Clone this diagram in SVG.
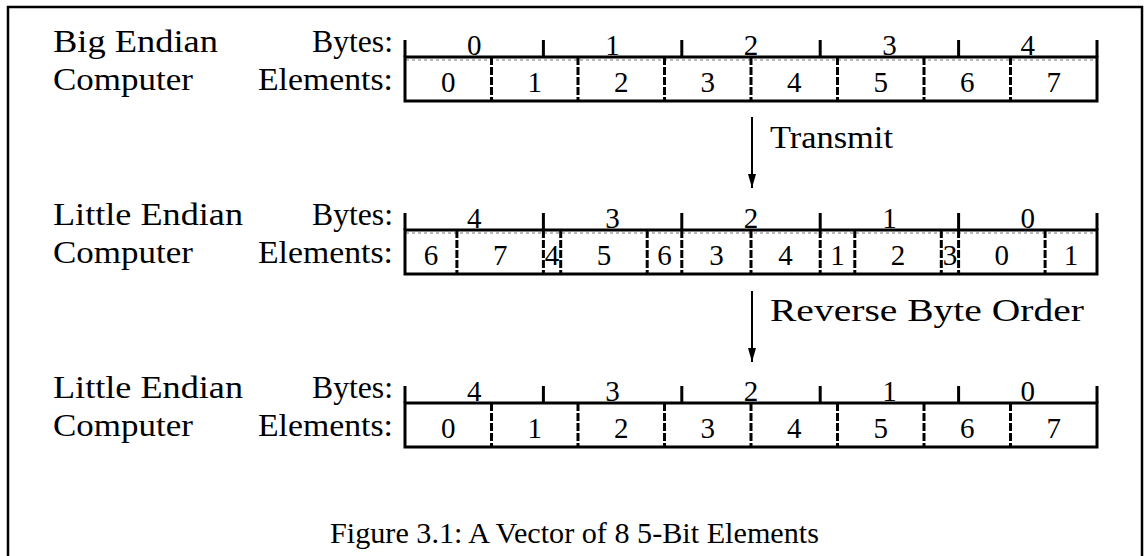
<svg xmlns="http://www.w3.org/2000/svg" width="1144" height="556" viewBox="0 0 1144 556">
<style>
text{font-family:"Liberation Serif","Times New Roman",serif;font-size:29px;fill:#000}
.t{font-size:31px}
.lbl{text-anchor:end}
.c{text-anchor:middle}
.box{fill:none;stroke:#000;stroke-width:3}
.tick{stroke:#000;stroke-width:3}
.div{stroke:#000;stroke-width:3;stroke-dasharray:8 2}
.dot{stroke:#777;stroke-width:1;stroke-dasharray:3 3}
.frame{fill:none;stroke:#000;stroke-width:2.5}
.arr{stroke:#000;stroke-width:2}
</style>
<defs>
<marker id="ah" markerUnits="userSpaceOnUse" markerWidth="8" markerHeight="14" refX="4" refY="14" orient="0">
<path d="M0,0 L8,0 L4,14 z" fill="#000"/>
</marker>
</defs>
<path class="frame" d="M8,556 V7 H1142 V556"/>

<g id="row1">
<text class="t" x="53" y="52" textLength="165" lengthAdjust="spacingAndGlyphs">Big Endian</text>
<text class="t" x="53" y="90" textLength="140" lengthAdjust="spacingAndGlyphs">Computer</text>
<text class="t lbl" x="393" y="52" textLength="81" lengthAdjust="spacingAndGlyphs">Bytes:</text>
<text class="t lbl" x="393" y="90" textLength="135" lengthAdjust="spacingAndGlyphs">Elements:</text>
<g class="tick"><line x1="405" y1="40" x2="405" y2="57"/><line x1="543.4" y1="40" x2="543.4" y2="57"/><line x1="681.8" y1="40" x2="681.8" y2="57"/><line x1="820.2" y1="40" x2="820.2" y2="57"/><line x1="958.6" y1="40" x2="958.6" y2="57"/><line x1="1097" y1="40" x2="1097" y2="57"/></g>
<g class="c"><text x="474.2" y="55">0</text><text x="612.6" y="55">1</text><text x="751" y="55">2</text><text x="889.4" y="55">3</text><text x="1027.8" y="55">4</text></g>
<line class="dot" x1="406" y1="60" x2="1096" y2="60"/>
<rect class="box" x="405" y="57" width="692" height="44"/>
<g class="div"><line x1="491.5" y1="57" x2="491.5" y2="101"/><line x1="578" y1="57" x2="578" y2="101"/><line x1="664.5" y1="57" x2="664.5" y2="101"/><line x1="751" y1="57" x2="751" y2="101"/><line x1="837.5" y1="57" x2="837.5" y2="101"/><line x1="924" y1="57" x2="924" y2="101"/><line x1="1010.5" y1="57" x2="1010.5" y2="101"/></g>
<g class="c"><text x="448.25" y="92">0</text><text x="534.75" y="92">1</text><text x="621.25" y="92">2</text><text x="707.75" y="92">3</text><text x="794.25" y="92">4</text><text x="880.75" y="92">5</text><text x="967.25" y="92">6</text><text x="1053.75" y="92">7</text></g>
</g>

<g id="row2">
<text class="t" x="53" y="225" textLength="190" lengthAdjust="spacingAndGlyphs">Little Endian</text>
<text class="t" x="53" y="263" textLength="140" lengthAdjust="spacingAndGlyphs">Computer</text>
<text class="t lbl" x="393" y="225" textLength="81" lengthAdjust="spacingAndGlyphs">Bytes:</text>
<text class="t lbl" x="393" y="263" textLength="135" lengthAdjust="spacingAndGlyphs">Elements:</text>
<g class="tick"><line x1="405" y1="213" x2="405" y2="230"/><line x1="543.4" y1="213" x2="543.4" y2="230"/><line x1="681.8" y1="213" x2="681.8" y2="230"/><line x1="820.2" y1="213" x2="820.2" y2="230"/><line x1="958.6" y1="213" x2="958.6" y2="230"/><line x1="1097" y1="213" x2="1097" y2="230"/></g>
<g class="c"><text x="474.2" y="228">4</text><text x="612.6" y="228">3</text><text x="751" y="228">2</text><text x="889.4" y="228">1</text><text x="1027.8" y="228">0</text></g>
<line class="dot" x1="406" y1="233" x2="1096" y2="233"/>
<rect class="box" x="405" y="230" width="692" height="44"/>
<g class="div"><line x1="456.9" y1="230" x2="456.9" y2="274"/><line x1="543.4" y1="230" x2="543.4" y2="274"/><line x1="560.7" y1="230" x2="560.7" y2="274"/><line x1="647.2" y1="230" x2="647.2" y2="274"/><line x1="681.8" y1="230" x2="681.8" y2="274"/><line x1="751" y1="230" x2="751" y2="274"/><line x1="820.2" y1="230" x2="820.2" y2="274"/><line x1="854.8" y1="230" x2="854.8" y2="274"/><line x1="941.3" y1="230" x2="941.3" y2="274"/><line x1="958.6" y1="230" x2="958.6" y2="274"/><line x1="1045.1" y1="230" x2="1045.1" y2="274"/></g>
<g class="c"><text x="430.95" y="265">6</text><text x="500.15" y="265">7</text><text x="552.05" y="265">4</text><text x="603.95" y="265">5</text><text x="664.5" y="265">6</text><text x="716.4" y="265">3</text><text x="785.6" y="265">4</text><text x="837.5" y="265">1</text><text x="898.05" y="265">2</text><text x="949.95" y="265">3</text><text x="1001.85" y="265">0</text><text x="1071.05" y="265">1</text></g>
</g>

<g id="row3">
<text class="t" x="53" y="398" textLength="190" lengthAdjust="spacingAndGlyphs">Little Endian</text>
<text class="t" x="53" y="436" textLength="140" lengthAdjust="spacingAndGlyphs">Computer</text>
<text class="t lbl" x="393" y="398" textLength="81" lengthAdjust="spacingAndGlyphs">Bytes:</text>
<text class="t lbl" x="393" y="436" textLength="135" lengthAdjust="spacingAndGlyphs">Elements:</text>
<g class="tick"><line x1="405" y1="386" x2="405" y2="403"/><line x1="543.4" y1="386" x2="543.4" y2="403"/><line x1="681.8" y1="386" x2="681.8" y2="403"/><line x1="820.2" y1="386" x2="820.2" y2="403"/><line x1="958.6" y1="386" x2="958.6" y2="403"/><line x1="1097" y1="386" x2="1097" y2="403"/></g>
<g class="c"><text x="474.2" y="401">4</text><text x="612.6" y="401">3</text><text x="751" y="401">2</text><text x="889.4" y="401">1</text><text x="1027.8" y="401">0</text></g>
<rect class="box" x="405" y="403" width="692" height="44"/>
<g class="div"><line x1="491.5" y1="403" x2="491.5" y2="447"/><line x1="578" y1="403" x2="578" y2="447"/><line x1="664.5" y1="403" x2="664.5" y2="447"/><line x1="751" y1="403" x2="751" y2="447"/><line x1="837.5" y1="403" x2="837.5" y2="447"/><line x1="924" y1="403" x2="924" y2="447"/><line x1="1010.5" y1="403" x2="1010.5" y2="447"/></g>
<g class="c"><text x="448.25" y="438">0</text><text x="534.75" y="438">1</text><text x="621.25" y="438">2</text><text x="707.75" y="438">3</text><text x="794.25" y="438">4</text><text x="880.75" y="438">5</text><text x="967.25" y="438">6</text><text x="1053.75" y="438">7</text></g>
</g>

<g id="connectors">
<line class="arr" x1="752" y1="117" x2="752" y2="188" marker-end="url(#ah)"/>
<line class="arr" x1="752" y1="291" x2="752" y2="362" marker-end="url(#ah)"/>
</g>
<g id="transmit"><text class="t" x="770" y="148" textLength="123" lengthAdjust="spacingAndGlyphs">Transmit</text></g>
<g id="reverse"><text class="t" x="770" y="321" textLength="314" lengthAdjust="spacingAndGlyphs">Reverse Byte Order</text></g>
<g id="caption"><text class="c" x="574.5" y="543" textLength="489" lengthAdjust="spacingAndGlyphs">Figure 3.1: A Vector of 8 5-Bit Elements</text></g>
</svg>
